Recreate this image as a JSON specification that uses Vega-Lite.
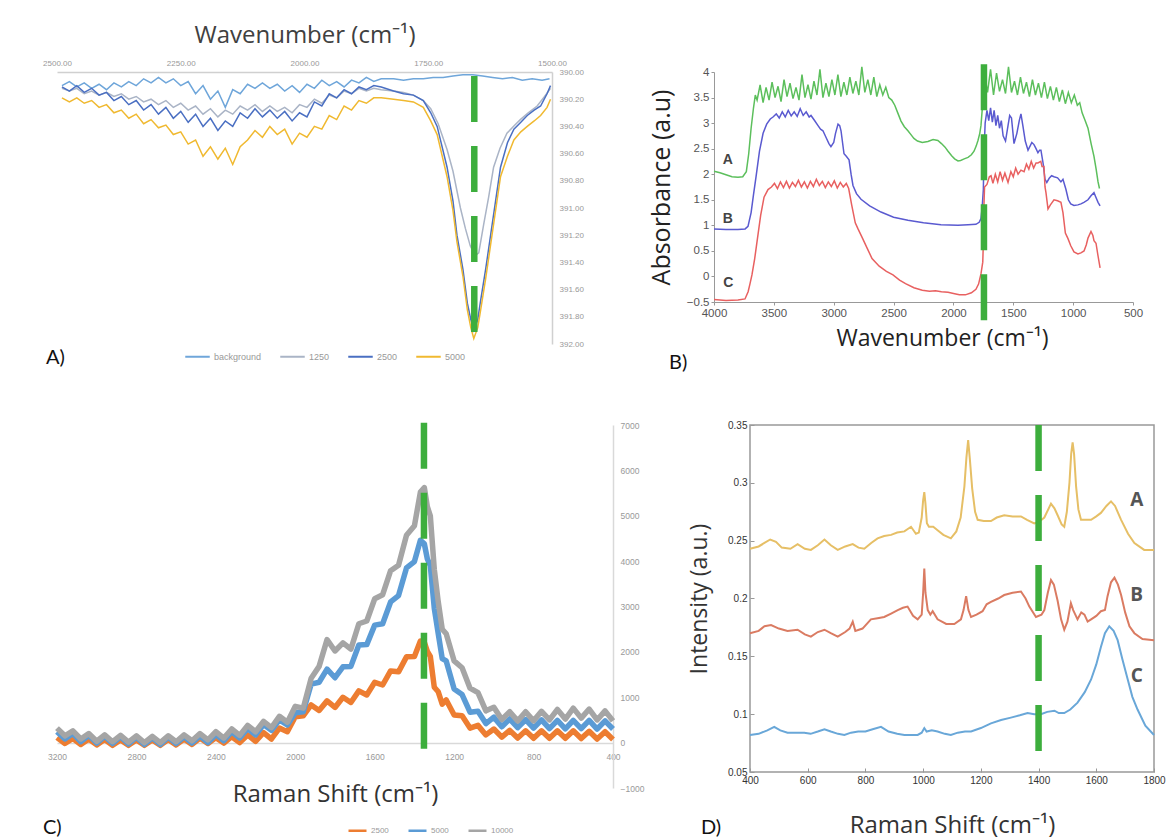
{
"$schema": "https://vega.github.io/schema/vega-lite/v6.json",
"background": "white",
"padding": {"left": 42, "top": 23, "right": 10, "bottom": 5},
"config": {
  "view": {"stroke": null},
  "axis": {"grid": false, "labelFlush": false, "labelOverlap": false, "titleFontWeight": "normal", "labelFont": "Liberation Sans", "titleFont": "Open Sans"},
  "legend": {"labelFont": "Liberation Sans"},
  "title": {"fontWeight": "normal", "font": "Lato", "fontSize": 20, "color": "#111", "anchor": "start", "orient": "bottom", "frame": "group"}
},
"resolve": {"scale": {"color": "independent"}, "legend": {"color": "independent"}},
"datasets": {
"A": [
{"s":"background","x":2490,"y":390.10},{"s":"background","x":2475,"y":390.07},{"s":"background","x":2460,"y":390.11},{"s":"background","x":2445,"y":390.08},{"s":"background","x":2430,"y":390.12},{"s":"background","x":2415,"y":390.09},{"s":"background","x":2400,"y":390.13},{"s":"background","x":2385,"y":390.08},{"s":"background","x":2370,"y":390.11},{"s":"background","x":2355,"y":390.07},{"s":"background","x":2340,"y":390.10},{"s":"background","x":2325,"y":390.05},{"s":"background","x":2310,"y":390.08},{"s":"background","x":2295,"y":390.04},{"s":"background","x":2280,"y":390.08},{"s":"background","x":2265,"y":390.05},{"s":"background","x":2250,"y":390.10},{"s":"background","x":2235,"y":390.07},{"s":"background","x":2220,"y":390.16},{"s":"background","x":2205,"y":390.10},{"s":"background","x":2190,"y":390.20},{"s":"background","x":2175,"y":390.14},{"s":"background","x":2160,"y":390.26},{"s":"background","x":2145,"y":390.13},{"s":"background","x":2130,"y":390.16},{"s":"background","x":2115,"y":390.09},{"s":"background","x":2100,"y":390.12},{"s":"background","x":2085,"y":390.08},{"s":"background","x":2070,"y":390.12},{"s":"background","x":2055,"y":390.09},{"s":"background","x":2040,"y":390.14},{"s":"background","x":2025,"y":390.10},{"s":"background","x":2010,"y":390.15},{"s":"background","x":1995,"y":390.09},{"s":"background","x":1980,"y":390.12},{"s":"background","x":1965,"y":390.06},{"s":"background","x":1950,"y":390.10},{"s":"background","x":1935,"y":390.07},{"s":"background","x":1920,"y":390.11},{"s":"background","x":1905,"y":390.06},{"s":"background","x":1890,"y":390.08},{"s":"background","x":1875,"y":390.04},{"s":"background","x":1860,"y":390.07},{"s":"background","x":1845,"y":390.05},{"s":"background","x":1820,"y":390.05},{"s":"background","x":1800,"y":390.06},{"s":"background","x":1780,"y":390.05},{"s":"background","x":1760,"y":390.05},{"s":"background","x":1740,"y":390.04},{"s":"background","x":1720,"y":390.04},{"s":"background","x":1700,"y":390.03},{"s":"background","x":1680,"y":390.02},{"s":"background","x":1660,"y":390.02},{"s":"background","x":1640,"y":390.03},{"s":"background","x":1620,"y":390.04},{"s":"background","x":1600,"y":390.05},{"s":"background","x":1580,"y":390.04},{"s":"background","x":1560,"y":390.06},{"s":"background","x":1540,"y":390.05},{"s":"background","x":1520,"y":390.06},{"s":"background","x":1505,"y":390.05},
{"s":"1250","x":2490,"y":390.12},{"s":"1250","x":2475,"y":390.14},{"s":"1250","x":2460,"y":390.12},{"s":"1250","x":2445,"y":390.16},{"s":"1250","x":2430,"y":390.14},{"s":"1250","x":2415,"y":390.17},{"s":"1250","x":2400,"y":390.15},{"s":"1250","x":2385,"y":390.18},{"s":"1250","x":2370,"y":390.16},{"s":"1250","x":2355,"y":390.20},{"s":"1250","x":2340,"y":390.18},{"s":"1250","x":2325,"y":390.22},{"s":"1250","x":2310,"y":390.20},{"s":"1250","x":2295,"y":390.24},{"s":"1250","x":2280,"y":390.21},{"s":"1250","x":2265,"y":390.26},{"s":"1250","x":2250,"y":390.23},{"s":"1250","x":2235,"y":390.28},{"s":"1250","x":2220,"y":390.25},{"s":"1250","x":2205,"y":390.31},{"s":"1250","x":2190,"y":390.27},{"s":"1250","x":2175,"y":390.33},{"s":"1250","x":2160,"y":390.28},{"s":"1250","x":2145,"y":390.31},{"s":"1250","x":2130,"y":390.25},{"s":"1250","x":2115,"y":390.28},{"s":"1250","x":2100,"y":390.24},{"s":"1250","x":2085,"y":390.29},{"s":"1250","x":2070,"y":390.25},{"s":"1250","x":2055,"y":390.29},{"s":"1250","x":2040,"y":390.26},{"s":"1250","x":2025,"y":390.30},{"s":"1250","x":2010,"y":390.24},{"s":"1250","x":1995,"y":390.26},{"s":"1250","x":1980,"y":390.20},{"s":"1250","x":1965,"y":390.23},{"s":"1250","x":1950,"y":390.17},{"s":"1250","x":1935,"y":390.19},{"s":"1250","x":1920,"y":390.14},{"s":"1250","x":1905,"y":390.16},{"s":"1250","x":1890,"y":390.12},{"s":"1250","x":1875,"y":390.14},{"s":"1250","x":1860,"y":390.12},{"s":"1250","x":1845,"y":390.13},{"s":"1250","x":1820,"y":390.14},{"s":"1250","x":1800,"y":390.15},{"s":"1250","x":1780,"y":390.17},{"s":"1250","x":1760,"y":390.21},{"s":"1250","x":1745,"y":390.27},{"s":"1250","x":1730,"y":390.38},{"s":"1250","x":1712,"y":390.57},{"s":"1250","x":1700,"y":390.73},{"s":"1250","x":1685,"y":391.00},{"s":"1250","x":1675,"y":391.15},{"s":"1250","x":1665,"y":391.28},{"s":"1250","x":1655,"y":391.35},{"s":"1250","x":1648,"y":391.33},{"s":"1250","x":1638,"y":391.12},{"s":"1250","x":1628,"y":390.92},{"s":"1250","x":1618,"y":390.70},{"s":"1250","x":1605,"y":390.56},{"s":"1250","x":1591,"y":390.45},{"s":"1250","x":1575,"y":390.39},{"s":"1250","x":1564,"y":390.35},{"s":"1250","x":1548,"y":390.30},{"s":"1250","x":1530,"y":390.25},{"s":"1250","x":1515,"y":390.18},{"s":"1250","x":1503,"y":390.12},
{"s":"2500","x":2490,"y":390.11},{"s":"2500","x":2475,"y":390.14},{"s":"2500","x":2460,"y":390.10},{"s":"2500","x":2445,"y":390.15},{"s":"2500","x":2430,"y":390.12},{"s":"2500","x":2415,"y":390.17},{"s":"2500","x":2400,"y":390.15},{"s":"2500","x":2385,"y":390.21},{"s":"2500","x":2370,"y":390.18},{"s":"2500","x":2355,"y":390.24},{"s":"2500","x":2340,"y":390.21},{"s":"2500","x":2325,"y":390.28},{"s":"2500","x":2310,"y":390.24},{"s":"2500","x":2295,"y":390.31},{"s":"2500","x":2280,"y":390.26},{"s":"2500","x":2265,"y":390.34},{"s":"2500","x":2250,"y":390.29},{"s":"2500","x":2235,"y":390.37},{"s":"2500","x":2220,"y":390.31},{"s":"2500","x":2205,"y":390.40},{"s":"2500","x":2190,"y":390.34},{"s":"2500","x":2175,"y":390.43},{"s":"2500","x":2160,"y":390.36},{"s":"2500","x":2145,"y":390.40},{"s":"2500","x":2130,"y":390.30},{"s":"2500","x":2115,"y":390.34},{"s":"2500","x":2100,"y":390.27},{"s":"2500","x":2085,"y":390.33},{"s":"2500","x":2070,"y":390.28},{"s":"2500","x":2055,"y":390.34},{"s":"2500","x":2040,"y":390.29},{"s":"2500","x":2025,"y":390.36},{"s":"2500","x":2010,"y":390.30},{"s":"2500","x":1995,"y":390.33},{"s":"2500","x":1980,"y":390.22},{"s":"2500","x":1965,"y":390.25},{"s":"2500","x":1950,"y":390.16},{"s":"2500","x":1935,"y":390.19},{"s":"2500","x":1920,"y":390.13},{"s":"2500","x":1905,"y":390.16},{"s":"2500","x":1890,"y":390.11},{"s":"2500","x":1875,"y":390.13},{"s":"2500","x":1860,"y":390.10},{"s":"2500","x":1845,"y":390.11},{"s":"2500","x":1820,"y":390.14},{"s":"2500","x":1800,"y":390.16},{"s":"2500","x":1780,"y":390.17},{"s":"2500","x":1760,"y":390.21},{"s":"2500","x":1745,"y":390.30},{"s":"2500","x":1732,"y":390.40},{"s":"2500","x":1712,"y":390.70},{"s":"2500","x":1700,"y":390.95},{"s":"2500","x":1692,"y":391.20},{"s":"2500","x":1680,"y":391.45},{"s":"2500","x":1671,"y":391.70},{"s":"2500","x":1664,"y":391.82},{"s":"2500","x":1658,"y":391.90},{"s":"2500","x":1650,"y":391.82},{"s":"2500","x":1645,"y":391.70},{"s":"2500","x":1634,"y":391.45},{"s":"2500","x":1624,"y":391.20},{"s":"2500","x":1614,"y":390.95},{"s":"2500","x":1604,"y":390.70},{"s":"2500","x":1590,"y":390.52},{"s":"2500","x":1577,"y":390.42},{"s":"2500","x":1563,"y":390.37},{"s":"2500","x":1550,"y":390.32},{"s":"2500","x":1536,"y":390.28},{"s":"2500","x":1523,"y":390.25},{"s":"2500","x":1510,"y":390.16},{"s":"2500","x":1503,"y":390.10},
{"s":"5000","x":2490,"y":390.19},{"s":"5000","x":2475,"y":390.22},{"s":"5000","x":2460,"y":390.19},{"s":"5000","x":2445,"y":390.23},{"s":"5000","x":2430,"y":390.21},{"s":"5000","x":2415,"y":390.26},{"s":"5000","x":2400,"y":390.24},{"s":"5000","x":2385,"y":390.30},{"s":"5000","x":2370,"y":390.28},{"s":"5000","x":2355,"y":390.34},{"s":"5000","x":2340,"y":390.31},{"s":"5000","x":2325,"y":390.38},{"s":"5000","x":2310,"y":390.35},{"s":"5000","x":2295,"y":390.41},{"s":"5000","x":2280,"y":390.39},{"s":"5000","x":2265,"y":390.46},{"s":"5000","x":2250,"y":390.44},{"s":"5000","x":2235,"y":390.53},{"s":"5000","x":2220,"y":390.50},{"s":"5000","x":2205,"y":390.62},{"s":"5000","x":2190,"y":390.55},{"s":"5000","x":2175,"y":390.64},{"s":"5000","x":2160,"y":390.56},{"s":"5000","x":2145,"y":390.68},{"s":"5000","x":2130,"y":390.55},{"s":"5000","x":2115,"y":390.50},{"s":"5000","x":2100,"y":390.43},{"s":"5000","x":2085,"y":390.48},{"s":"5000","x":2070,"y":390.40},{"s":"5000","x":2055,"y":390.46},{"s":"5000","x":2040,"y":390.42},{"s":"5000","x":2025,"y":390.53},{"s":"5000","x":2010,"y":390.45},{"s":"5000","x":1995,"y":390.48},{"s":"5000","x":1980,"y":390.40},{"s":"5000","x":1965,"y":390.42},{"s":"5000","x":1950,"y":390.32},{"s":"5000","x":1935,"y":390.35},{"s":"5000","x":1920,"y":390.25},{"s":"5000","x":1905,"y":390.28},{"s":"5000","x":1890,"y":390.21},{"s":"5000","x":1875,"y":390.23},{"s":"5000","x":1860,"y":390.19},{"s":"5000","x":1845,"y":390.19},{"s":"5000","x":1820,"y":390.20},{"s":"5000","x":1800,"y":390.21},{"s":"5000","x":1780,"y":390.22},{"s":"5000","x":1760,"y":390.26},{"s":"5000","x":1745,"y":390.36},{"s":"5000","x":1732,"y":390.46},{"s":"5000","x":1712,"y":390.77},{"s":"5000","x":1700,"y":391.02},{"s":"5000","x":1692,"y":391.25},{"s":"5000","x":1680,"y":391.50},{"s":"5000","x":1671,"y":391.75},{"s":"5000","x":1664,"y":391.88},{"s":"5000","x":1658,"y":391.96},{"s":"5000","x":1650,"y":391.88},{"s":"5000","x":1645,"y":391.77},{"s":"5000","x":1634,"y":391.52},{"s":"5000","x":1624,"y":391.27},{"s":"5000","x":1614,"y":391.02},{"s":"5000","x":1604,"y":390.77},{"s":"5000","x":1590,"y":390.62},{"s":"5000","x":1577,"y":390.50},{"s":"5000","x":1563,"y":390.44},{"s":"5000","x":1550,"y":390.40},{"s":"5000","x":1536,"y":390.36},{"s":"5000","x":1523,"y":390.32},{"s":"5000","x":1510,"y":390.26},{"s":"5000","x":1503,"y":390.20}
],
"B": [
{"s":"A","x":4000,"y":2.06},{"s":"A","x":3950,"y":2.03},{"s":"A","x":3900,"y":1.99},{"s":"A","x":3850,"y":1.95},{"s":"A","x":3800,"y":1.94},{"s":"A","x":3760,"y":1.95},{"s":"A","x":3730,"y":2.05},{"s":"A","x":3710,"y":2.4},{"s":"A","x":3690,"y":2.9},{"s":"A","x":3670,"y":3.3},{"s":"A","x":3655,"y":3.55},{"s":"A","x":3640,"y":3.45},{"s":"A","x":3615,"y":3.75},{"s":"A","x":3590,"y":3.40},{"s":"A","x":3565,"y":3.70},{"s":"A","x":3540,"y":3.45},{"s":"A","x":3515,"y":3.80},{"s":"A","x":3490,"y":3.50},{"s":"A","x":3465,"y":3.72},{"s":"A","x":3440,"y":3.42},{"s":"A","x":3415,"y":3.85},{"s":"A","x":3390,"y":3.52},{"s":"A","x":3365,"y":3.78},{"s":"A","x":3340,"y":3.48},{"s":"A","x":3315,"y":3.70},{"s":"A","x":3290,"y":3.45},{"s":"A","x":3265,"y":3.95},{"s":"A","x":3240,"y":3.50},{"s":"A","x":3215,"y":3.75},{"s":"A","x":3190,"y":3.47},{"s":"A","x":3165,"y":3.82},{"s":"A","x":3140,"y":3.55},{"s":"A","x":3115,"y":4.05},{"s":"A","x":3090,"y":3.50},{"s":"A","x":3065,"y":3.78},{"s":"A","x":3040,"y":3.52},{"s":"A","x":3015,"y":3.85},{"s":"A","x":2990,"y":3.55},{"s":"A","x":2965,"y":3.95},{"s":"A","x":2940,"y":3.52},{"s":"A","x":2915,"y":3.80},{"s":"A","x":2890,"y":3.55},{"s":"A","x":2865,"y":3.90},{"s":"A","x":2840,"y":3.58},{"s":"A","x":2815,"y":3.82},{"s":"A","x":2790,"y":3.55},{"s":"A","x":2765,"y":4.1},{"s":"A","x":2740,"y":3.60},{"s":"A","x":2715,"y":3.85},{"s":"A","x":2690,"y":3.55},{"s":"A","x":2665,"y":3.90},{"s":"A","x":2640,"y":3.52},{"s":"A","x":2615,"y":3.75},{"s":"A","x":2590,"y":3.55},{"s":"A","x":2565,"y":3.70},{"s":"A","x":2540,"y":3.50},{"s":"A","x":2515,"y":3.45},{"s":"A","x":2490,"y":3.35},{"s":"A","x":2465,"y":3.20},{"s":"A","x":2438,"y":3.04},{"s":"A","x":2410,"y":2.93},{"s":"A","x":2380,"y":2.85},{"s":"A","x":2350,"y":2.76},{"s":"A","x":2330,"y":2.70},{"s":"A","x":2300,"y":2.65},{"s":"A","x":2260,"y":2.62},{"s":"A","x":2213,"y":2.64},{"s":"A","x":2170,"y":2.68},{"s":"A","x":2130,"y":2.66},{"s":"A","x":2100,"y":2.60},{"s":"A","x":2070,"y":2.53},{"s":"A","x":2045,"y":2.45},{"s":"A","x":2015,"y":2.36},{"s":"A","x":1990,"y":2.30},{"s":"A","x":1962,"y":2.26},{"s":"A","x":1940,"y":2.27},{"s":"A","x":1910,"y":2.30},{"s":"A","x":1878,"y":2.33},{"s":"A","x":1850,"y":2.38},{"s":"A","x":1828,"y":2.45},{"s":"A","x":1810,"y":2.55},{"s":"A","x":1795,"y":2.66},{"s":"A","x":1780,"y":2.80},{"s":"A","x":1770,"y":2.95},{"s":"A","x":1760,"y":3.25},{"s":"A","x":1752,"y":3.6},{"s":"A","x":1740,"y":3.95},{"s":"A","x":1715,"y":3.60},{"s":"A","x":1690,"y":4.05},{"s":"A","x":1665,"y":3.55},{"s":"A","x":1640,"y":3.98},{"s":"A","x":1615,"y":3.62},{"s":"A","x":1590,"y":3.85},{"s":"A","x":1565,"y":3.58},{"s":"A","x":1540,"y":4.1},{"s":"A","x":1515,"y":3.60},{"s":"A","x":1490,"y":3.82},{"s":"A","x":1465,"y":3.55},{"s":"A","x":1440,"y":3.90},{"s":"A","x":1415,"y":3.58},{"s":"A","x":1390,"y":3.80},{"s":"A","x":1365,"y":3.52},{"s":"A","x":1340,"y":3.85},{"s":"A","x":1315,"y":3.55},{"s":"A","x":1290,"y":3.78},{"s":"A","x":1265,"y":3.50},{"s":"A","x":1240,"y":3.80},{"s":"A","x":1215,"y":3.48},{"s":"A","x":1190,"y":3.72},{"s":"A","x":1165,"y":3.45},{"s":"A","x":1140,"y":3.70},{"s":"A","x":1115,"y":3.42},{"s":"A","x":1090,"y":3.65},{"s":"A","x":1065,"y":3.38},{"s":"A","x":1040,"y":3.60},{"s":"A","x":1015,"y":3.40},{"s":"A","x":990,"y":3.55},{"s":"A","x":965,"y":3.35},{"s":"A","x":945,"y":3.40},{"s":"A","x":925,"y":3.20},{"s":"A","x":900,"y":3.05},{"s":"A","x":876,"y":2.90},{"s":"A","x":850,"y":2.60},{"s":"A","x":826,"y":2.35},{"s":"A","x":808,"y":2.10},{"s":"A","x":792,"y":1.85},{"s":"A","x":780,"y":1.72},
{"s":"B","x":4000,"y":0.93},{"s":"B","x":3900,"y":0.92},{"s":"B","x":3800,"y":0.92},{"s":"B","x":3740,"y":0.93},{"s":"B","x":3716,"y":0.98},{"s":"B","x":3690,"y":1.25},{"s":"B","x":3670,"y":1.60},{"s":"B","x":3649,"y":1.95},{"s":"B","x":3620,"y":2.45},{"s":"B","x":3590,"y":2.80},{"s":"B","x":3560,"y":2.98},{"s":"B","x":3530,"y":3.08},{"s":"B","x":3507,"y":3.12},{"s":"B","x":3480,"y":3.18},{"s":"B","x":3455,"y":3.10},{"s":"B","x":3430,"y":3.22},{"s":"B","x":3405,"y":3.12},{"s":"B","x":3380,"y":3.25},{"s":"B","x":3355,"y":3.14},{"s":"B","x":3330,"y":3.22},{"s":"B","x":3305,"y":3.13},{"s":"B","x":3280,"y":3.28},{"s":"B","x":3255,"y":3.15},{"s":"B","x":3230,"y":3.22},{"s":"B","x":3205,"y":3.12},{"s":"B","x":3190,"y":3.15},{"s":"B","x":3160,"y":3.05},{"s":"B","x":3131,"y":2.95},{"s":"B","x":3110,"y":2.88},{"s":"B","x":3090,"y":2.85},{"s":"B","x":3060,"y":2.70},{"s":"B","x":3040,"y":2.60},{"s":"B","x":3023,"y":2.54},{"s":"B","x":3000,"y":2.62},{"s":"B","x":2985,"y":2.80},{"s":"B","x":2964,"y":2.98},{"s":"B","x":2950,"y":2.95},{"s":"B","x":2939,"y":2.85},{"s":"B","x":2914,"y":2.40},{"s":"B","x":2895,"y":2.35},{"s":"B","x":2872,"y":2.28},{"s":"B","x":2855,"y":2.00},{"s":"B","x":2839,"y":1.78},{"s":"B","x":2810,"y":1.62},{"s":"B","x":2772,"y":1.51},{"s":"B","x":2700,"y":1.38},{"s":"B","x":2605,"y":1.26},{"s":"B","x":2500,"y":1.16},{"s":"B","x":2380,"y":1.10},{"s":"B","x":2250,"y":1.05},{"s":"B","x":2104,"y":1.01},{"s":"B","x":1962,"y":1.00},{"s":"B","x":1878,"y":1.01},{"s":"B","x":1812,"y":1.02},{"s":"B","x":1785,"y":1.06},{"s":"B","x":1770,"y":1.13},{"s":"B","x":1760,"y":1.35},{"s":"B","x":1750,"y":1.70},{"s":"B","x":1745,"y":2.40},{"s":"B","x":1735,"y":3.00},{"s":"B","x":1720,"y":3.25},{"s":"B","x":1705,"y":3.05},{"s":"B","x":1690,"y":3.30},{"s":"B","x":1675,"y":3.02},{"s":"B","x":1660,"y":3.25},{"s":"B","x":1645,"y":2.95},{"s":"B","x":1630,"y":3.15},{"s":"B","x":1615,"y":2.90},{"s":"B","x":1600,"y":3.05},{"s":"B","x":1585,"y":2.75},{"s":"B","x":1565,"y":2.65},{"s":"B","x":1544,"y":2.95},{"s":"B","x":1530,"y":3.15},{"s":"B","x":1515,"y":3.10},{"s":"B","x":1494,"y":2.60},{"s":"B","x":1470,"y":2.80},{"s":"B","x":1450,"y":3.05},{"s":"B","x":1436,"y":3.18},{"s":"B","x":1420,"y":2.95},{"s":"B","x":1400,"y":2.65},{"s":"B","x":1377,"y":2.47},{"s":"B","x":1360,"y":2.55},{"s":"B","x":1345,"y":2.62},{"s":"B","x":1327,"y":2.58},{"s":"B","x":1310,"y":2.50},{"s":"B","x":1294,"y":2.42},{"s":"B","x":1280,"y":2.47},{"s":"B","x":1269,"y":2.47},{"s":"B","x":1250,"y":2.20},{"s":"B","x":1235,"y":1.90},{"s":"B","x":1220,"y":1.84},{"s":"B","x":1200,"y":1.92},{"s":"B","x":1180,"y":1.97},{"s":"B","x":1160,"y":1.95},{"s":"B","x":1130,"y":1.93},{"s":"B","x":1102,"y":1.85},{"s":"B","x":1085,"y":1.90},{"s":"B","x":1060,"y":1.70},{"s":"B","x":1040,"y":1.50},{"s":"B","x":1020,"y":1.42},{"s":"B","x":993,"y":1.39},{"s":"B","x":960,"y":1.40},{"s":"B","x":935,"y":1.42},{"s":"B","x":910,"y":1.45},{"s":"B","x":876,"y":1.50},{"s":"B","x":851,"y":1.58},{"s":"B","x":826,"y":1.64},{"s":"B","x":810,"y":1.55},{"s":"B","x":792,"y":1.45},{"s":"B","x":775,"y":1.38},
{"s":"C","x":4000,"y":-0.45},{"s":"C","x":3900,"y":-0.47},{"s":"C","x":3800,"y":-0.46},{"s":"C","x":3741,"y":-0.44},{"s":"C","x":3715,"y":-0.30},{"s":"C","x":3700,"y":-0.15},{"s":"C","x":3683,"y":0.03},{"s":"C","x":3660,"y":0.35},{"s":"C","x":3640,"y":0.69},{"s":"C","x":3610,"y":1.20},{"s":"C","x":3582,"y":1.55},{"s":"C","x":3549,"y":1.70},{"s":"C","x":3520,"y":1.75},{"s":"C","x":3495,"y":1.82},{"s":"C","x":3470,"y":1.72},{"s":"C","x":3445,"y":1.85},{"s":"C","x":3420,"y":1.74},{"s":"C","x":3395,"y":1.86},{"s":"C","x":3370,"y":1.73},{"s":"C","x":3345,"y":1.84},{"s":"C","x":3320,"y":1.76},{"s":"C","x":3295,"y":1.88},{"s":"C","x":3270,"y":1.75},{"s":"C","x":3245,"y":1.85},{"s":"C","x":3220,"y":1.73},{"s":"C","x":3195,"y":1.86},{"s":"C","x":3170,"y":1.76},{"s":"C","x":3145,"y":1.90},{"s":"C","x":3120,"y":1.78},{"s":"C","x":3095,"y":1.86},{"s":"C","x":3070,"y":1.74},{"s":"C","x":3045,"y":1.85},{"s":"C","x":3020,"y":1.76},{"s":"C","x":2995,"y":1.87},{"s":"C","x":2970,"y":1.73},{"s":"C","x":2945,"y":1.84},{"s":"C","x":2920,"y":1.75},{"s":"C","x":2895,"y":1.82},{"s":"C","x":2875,"y":1.72},{"s":"C","x":2850,"y":1.40},{"s":"C","x":2820,"y":1.05},{"s":"C","x":2797,"y":0.93},{"s":"C","x":2760,"y":0.75},{"s":"C","x":2720,"y":0.55},{"s":"C","x":2680,"y":0.35},{"s":"C","x":2620,"y":0.20},{"s":"C","x":2560,"y":0.10},{"s":"C","x":2505,"y":0.03},{"s":"C","x":2450,"y":-0.07},{"s":"C","x":2400,"y":-0.14},{"s":"C","x":2330,"y":-0.22},{"s":"C","x":2260,"y":-0.27},{"s":"C","x":2200,"y":-0.29},{"s":"C","x":2150,"y":-0.28},{"s":"C","x":2100,"y":-0.30},{"s":"C","x":2045,"y":-0.31},{"s":"C","x":1990,"y":-0.34},{"s":"C","x":1950,"y":-0.36},{"s":"C","x":1900,"y":-0.36},{"s":"C","x":1850,"y":-0.32},{"s":"C","x":1812,"y":-0.25},{"s":"C","x":1790,"y":-0.15},{"s":"C","x":1770,"y":0.05},{"s":"C","x":1755,"y":0.28},{"s":"C","x":1748,"y":0.8},{"s":"C","x":1745,"y":1.4},{"s":"C","x":1740,"y":1.75},{"s":"C","x":1720,"y":1.80},{"s":"C","x":1700,"y":1.95},{"s":"C","x":1686,"y":1.97},{"s":"C","x":1670,"y":1.82},{"s":"C","x":1650,"y":2.0},{"s":"C","x":1630,"y":1.85},{"s":"C","x":1610,"y":2.05},{"s":"C","x":1590,"y":1.88},{"s":"C","x":1570,"y":2.02},{"s":"C","x":1544,"y":1.84},{"s":"C","x":1520,"y":2.05},{"s":"C","x":1500,"y":1.95},{"s":"C","x":1480,"y":2.12},{"s":"C","x":1460,"y":2.0},{"s":"C","x":1436,"y":2.08},{"s":"C","x":1410,"y":2.05},{"s":"C","x":1390,"y":2.20},{"s":"C","x":1370,"y":2.10},{"s":"C","x":1350,"y":2.25},{"s":"C","x":1330,"y":2.12},{"s":"C","x":1310,"y":2.22},{"s":"C","x":1294,"y":2.22},{"s":"C","x":1270,"y":2.25},{"s":"C","x":1260,"y":2.15},{"s":"C","x":1244,"y":2.15},{"s":"C","x":1235,"y":1.75},{"s":"C","x":1227,"y":1.64},{"s":"C","x":1210,"y":1.32},{"s":"C","x":1190,"y":1.40},{"s":"C","x":1160,"y":1.50},{"s":"C","x":1130,"y":1.48},{"s":"C","x":1102,"y":1.45},{"s":"C","x":1085,"y":1.25},{"s":"C","x":1065,"y":0.85},{"s":"C","x":1043,"y":0.74},{"s":"C","x":1020,"y":0.60},{"s":"C","x":993,"y":0.48},{"s":"C","x":960,"y":0.44},{"s":"C","x":935,"y":0.46},{"s":"C","x":909,"y":0.50},{"s":"C","x":890,"y":0.62},{"s":"C","x":876,"y":0.75},{"s":"C","x":851,"y":0.88},{"s":"C","x":835,"y":0.80},{"s":"C","x":826,"y":0.70},{"s":"C","x":809,"y":0.65},{"s":"C","x":792,"y":0.40},{"s":"C","x":775,"y":0.17}
],
"Blab": [{"t":"A","x":3885,"y":2.27},{"t":"B","x":3885,"y":1.12},{"t":"C","x":3880,"y":-0.13}],
"C": [
{"s":"2500","x":3200,"y":110},{"s":"2500","x":3160,"y":-20},{"s":"2500","x":3120,"y":90},{"s":"2500","x":3080,"y":-40},{"s":"2500","x":3040,"y":80},{"s":"2500","x":3000,"y":-50},{"s":"2500","x":2960,"y":70},{"s":"2500","x":2920,"y":-60},{"s":"2500","x":2880,"y":60},{"s":"2500","x":2840,"y":-60},{"s":"2500","x":2800,"y":60},{"s":"2500","x":2760,"y":-60},{"s":"2500","x":2720,"y":60},{"s":"2500","x":2680,"y":-60},{"s":"2500","x":2640,"y":70},{"s":"2500","x":2600,"y":-50},{"s":"2500","x":2560,"y":80},{"s":"2500","x":2520,"y":-40},{"s":"2500","x":2480,"y":100},{"s":"2500","x":2440,"y":-20},{"s":"2500","x":2400,"y":110},{"s":"2500","x":2360,"y":-10},{"s":"2500","x":2320,"y":130},{"s":"2500","x":2280,"y":0},{"s":"2500","x":2240,"y":170},{"s":"2500","x":2200,"y":30},{"s":"2500","x":2160,"y":220},{"s":"2500","x":2120,"y":80},{"s":"2500","x":2080,"y":320},{"s":"2500","x":2040,"y":240},{"s":"2500","x":2000,"y":570},{"s":"2500","x":1960,"y":590},{"s":"2500","x":1920,"y":830},{"s":"2500","x":1880,"y":710},{"s":"2500","x":1840,"y":920},{"s":"2500","x":1800,"y":775},{"s":"2500","x":1760,"y":1000},{"s":"2500","x":1720,"y":885},{"s":"2500","x":1680,"y":1140},{"s":"2500","x":1640,"y":1050},{"s":"2500","x":1600,"y":1330},{"s":"2500","x":1560,"y":1270},{"s":"2500","x":1520,"y":1580},{"s":"2500","x":1480,"y":1560},{"s":"2500","x":1440,"y":1890},{"s":"2500","x":1400,"y":1900},{"s":"2500","x":1370,"y":2240},{"s":"2500","x":1350,"y":2210},{"s":"2500","x":1335,"y":2010},{"s":"2500","x":1320,"y":1900},{"s":"2500","x":1300,"y":1220},{"s":"2500","x":1280,"y":1120},{"s":"2500","x":1260,"y":850},{"s":"2500","x":1240,"y":940},{"s":"2500","x":1200,"y":610},{"s":"2500","x":1160,"y":590},{"s":"2500","x":1120,"y":320},{"s":"2500","x":1080,"y":380},{"s":"2500","x":1040,"y":170},{"s":"2500","x":1000,"y":300},{"s":"2500","x":960,"y":120},{"s":"2500","x":920,"y":270},{"s":"2500","x":880,"y":100},{"s":"2500","x":840,"y":260},{"s":"2500","x":800,"y":95},{"s":"2500","x":760,"y":260},{"s":"2500","x":720,"y":95},{"s":"2500","x":680,"y":260},{"s":"2500","x":640,"y":95},{"s":"2500","x":600,"y":260},{"s":"2500","x":560,"y":90},{"s":"2500","x":520,"y":250},{"s":"2500","x":480,"y":80},{"s":"2500","x":440,"y":240},{"s":"2500","x":400,"y":70},
{"s":"5000","x":3200,"y":240},{"s":"5000","x":3160,"y":80},{"s":"5000","x":3120,"y":200},{"s":"5000","x":3080,"y":20},{"s":"5000","x":3040,"y":160},{"s":"5000","x":3000,"y":-10},{"s":"5000","x":2960,"y":140},{"s":"5000","x":2920,"y":-20},{"s":"5000","x":2880,"y":130},{"s":"5000","x":2840,"y":-30},{"s":"5000","x":2800,"y":120},{"s":"5000","x":2760,"y":-40},{"s":"5000","x":2720,"y":110},{"s":"5000","x":2680,"y":-40},{"s":"5000","x":2640,"y":120},{"s":"5000","x":2600,"y":-20},{"s":"5000","x":2560,"y":130},{"s":"5000","x":2520,"y":-10},{"s":"5000","x":2480,"y":150},{"s":"5000","x":2440,"y":0},{"s":"5000","x":2400,"y":180},{"s":"5000","x":2360,"y":40},{"s":"5000","x":2320,"y":240},{"s":"5000","x":2280,"y":100},{"s":"5000","x":2240,"y":310},{"s":"5000","x":2200,"y":170},{"s":"5000","x":2160,"y":400},{"s":"5000","x":2120,"y":270},{"s":"5000","x":2080,"y":500},{"s":"5000","x":2040,"y":390},{"s":"5000","x":2000,"y":660},{"s":"5000","x":1960,"y":680},{"s":"5000","x":1920,"y":1290},{"s":"5000","x":1880,"y":1330},{"s":"5000","x":1840,"y":1620},{"s":"5000","x":1800,"y":1430},{"s":"5000","x":1760,"y":1670},{"s":"5000","x":1720,"y":1680},{"s":"5000","x":1680,"y":2150},{"s":"5000","x":1640,"y":2160},{"s":"5000","x":1600,"y":2590},{"s":"5000","x":1560,"y":2620},{"s":"5000","x":1520,"y":3100},{"s":"5000","x":1480,"y":3240},{"s":"5000","x":1440,"y":3850},{"s":"5000","x":1400,"y":3990},{"s":"5000","x":1370,"y":4460},{"s":"5000","x":1350,"y":4380},{"s":"5000","x":1335,"y":4050},{"s":"5000","x":1320,"y":3900},{"s":"5000","x":1300,"y":2960},{"s":"5000","x":1280,"y":2400},{"s":"5000","x":1260,"y":1850},{"s":"5000","x":1240,"y":1800},{"s":"5000","x":1200,"y":1180},{"s":"5000","x":1160,"y":1060},{"s":"5000","x":1120,"y":670},{"s":"5000","x":1080,"y":690},{"s":"5000","x":1040,"y":420},{"s":"5000","x":1000,"y":560},{"s":"5000","x":960,"y":350},{"s":"5000","x":920,"y":520},{"s":"5000","x":880,"y":330},{"s":"5000","x":840,"y":505},{"s":"5000","x":800,"y":320},{"s":"5000","x":760,"y":500},{"s":"5000","x":720,"y":310},{"s":"5000","x":680,"y":490},{"s":"5000","x":640,"y":305},{"s":"5000","x":600,"y":490},{"s":"5000","x":560,"y":310},{"s":"5000","x":520,"y":490},{"s":"5000","x":480,"y":300},{"s":"5000","x":440,"y":480},{"s":"5000","x":400,"y":300},
{"s":"10000","x":3200,"y":320},{"s":"10000","x":3160,"y":150},{"s":"10000","x":3120,"y":260},{"s":"10000","x":3080,"y":80},{"s":"10000","x":3040,"y":200},{"s":"10000","x":3000,"y":30},{"s":"10000","x":2960,"y":170},{"s":"10000","x":2920,"y":20},{"s":"10000","x":2880,"y":160},{"s":"10000","x":2840,"y":10},{"s":"10000","x":2800,"y":150},{"s":"10000","x":2760,"y":0},{"s":"10000","x":2720,"y":140},{"s":"10000","x":2680,"y":0},{"s":"10000","x":2640,"y":150},{"s":"10000","x":2600,"y":20},{"s":"10000","x":2560,"y":170},{"s":"10000","x":2520,"y":40},{"s":"10000","x":2480,"y":200},{"s":"10000","x":2440,"y":60},{"s":"10000","x":2400,"y":240},{"s":"10000","x":2360,"y":100},{"s":"10000","x":2320,"y":300},{"s":"10000","x":2280,"y":160},{"s":"10000","x":2240,"y":380},{"s":"10000","x":2200,"y":240},{"s":"10000","x":2160,"y":470},{"s":"10000","x":2120,"y":330},{"s":"10000","x":2080,"y":580},{"s":"10000","x":2040,"y":450},{"s":"10000","x":2000,"y":800},{"s":"10000","x":1960,"y":760},{"s":"10000","x":1920,"y":1420},{"s":"10000","x":1880,"y":1680},{"s":"10000","x":1840,"y":2270},{"s":"10000","x":1800,"y":2020},{"s":"10000","x":1760,"y":2200},{"s":"10000","x":1720,"y":2060},{"s":"10000","x":1680,"y":2620},{"s":"10000","x":1640,"y":2680},{"s":"10000","x":1600,"y":3170},{"s":"10000","x":1560,"y":3260},{"s":"10000","x":1520,"y":3790},{"s":"10000","x":1480,"y":3910},{"s":"10000","x":1440,"y":4570},{"s":"10000","x":1400,"y":4780},{"s":"10000","x":1370,"y":5520},{"s":"10000","x":1350,"y":5620},{"s":"10000","x":1335,"y":5200},{"s":"10000","x":1320,"y":5000},{"s":"10000","x":1300,"y":3820},{"s":"10000","x":1280,"y":3100},{"s":"10000","x":1260,"y":2500},{"s":"10000","x":1240,"y":2400},{"s":"10000","x":1200,"y":1800},{"s":"10000","x":1160,"y":1650},{"s":"10000","x":1120,"y":1200},{"s":"10000","x":1080,"y":1100},{"s":"10000","x":1040,"y":700},{"s":"10000","x":1000,"y":780},{"s":"10000","x":960,"y":510},{"s":"10000","x":920,"y":680},{"s":"10000","x":880,"y":480},{"s":"10000","x":840,"y":680},{"s":"10000","x":800,"y":480},{"s":"10000","x":760,"y":690},{"s":"10000","x":720,"y":500},{"s":"10000","x":680,"y":730},{"s":"10000","x":640,"y":520},{"s":"10000","x":600,"y":760},{"s":"10000","x":560,"y":540},{"s":"10000","x":520,"y":740},{"s":"10000","x":480,"y":500},{"s":"10000","x":440,"y":700},{"s":"10000","x":400,"y":480}
],
"D": [
{"s":"A","x":400,"y":0.243},{"s":"A","x":430,"y":0.245},{"s":"A","x":450,"y":0.248},{"s":"A","x":470,"y":0.251},{"s":"A","x":490,"y":0.249},{"s":"A","x":510,"y":0.244},{"s":"A","x":540,"y":0.243},{"s":"A","x":565,"y":0.247},{"s":"A","x":590,"y":0.243},{"s":"A","x":611,"y":0.242},{"s":"A","x":635,"y":0.246},{"s":"A","x":658,"y":0.251},{"s":"A","x":680,"y":0.246},{"s":"A","x":704,"y":0.242},{"s":"A","x":730,"y":0.245},{"s":"A","x":756,"y":0.247},{"s":"A","x":776,"y":0.244},{"s":"A","x":796,"y":0.243},{"s":"A","x":820,"y":0.248},{"s":"A","x":842,"y":0.252},{"s":"A","x":865,"y":0.254},{"s":"A","x":889,"y":0.255},{"s":"A","x":910,"y":0.257},{"s":"A","x":935,"y":0.258},{"s":"A","x":958,"y":0.262},{"s":"A","x":975,"y":0.256},{"s":"A","x":985,"y":0.257},{"s":"A","x":995,"y":0.270},{"s":"A","x":1000,"y":0.285},{"s":"A","x":1004,"y":0.292},{"s":"A","x":1008,"y":0.282},{"s":"A","x":1013,"y":0.265},{"s":"A","x":1020,"y":0.262},{"s":"A","x":1035,"y":0.262},{"s":"A","x":1050,"y":0.259},{"s":"A","x":1070,"y":0.255},{"s":"A","x":1096,"y":0.252},{"s":"A","x":1115,"y":0.258},{"s":"A","x":1130,"y":0.270},{"s":"A","x":1143,"y":0.297},{"s":"A","x":1150,"y":0.322},{"s":"A","x":1156,"y":0.337},{"s":"A","x":1162,"y":0.320},{"s":"A","x":1170,"y":0.295},{"s":"A","x":1180,"y":0.275},{"s":"A","x":1189,"y":0.268},{"s":"A","x":1210,"y":0.267},{"s":"A","x":1235,"y":0.267},{"s":"A","x":1255,"y":0.270},{"s":"A","x":1281,"y":0.272},{"s":"A","x":1310,"y":0.271},{"s":"A","x":1339,"y":0.271},{"s":"A","x":1360,"y":0.268},{"s":"A","x":1385,"y":0.265},{"s":"A","x":1400,"y":0.266},{"s":"A","x":1420,"y":0.270},{"s":"A","x":1443,"y":0.282},{"s":"A","x":1455,"y":0.278},{"s":"A","x":1466,"y":0.272},{"s":"A","x":1480,"y":0.264},{"s":"A","x":1489,"y":0.262},{"s":"A","x":1498,"y":0.275},{"s":"A","x":1507,"y":0.300},{"s":"A","x":1513,"y":0.325},{"s":"A","x":1518,"y":0.335},{"s":"A","x":1523,"y":0.325},{"s":"A","x":1530,"y":0.297},{"s":"A","x":1538,"y":0.277},{"s":"A","x":1547,"y":0.268},{"s":"A","x":1565,"y":0.268},{"s":"A","x":1582,"y":0.268},{"s":"A","x":1600,"y":0.271},{"s":"A","x":1616,"y":0.274},{"s":"A","x":1635,"y":0.280},{"s":"A","x":1651,"y":0.284},{"s":"A","x":1665,"y":0.280},{"s":"A","x":1686,"y":0.268},{"s":"A","x":1710,"y":0.256},{"s":"A","x":1732,"y":0.248},{"s":"A","x":1766,"y":0.242},{"s":"A","x":1800,"y":0.242},
{"s":"B","x":400,"y":0.170},{"s":"B","x":430,"y":0.172},{"s":"B","x":450,"y":0.176},{"s":"B","x":473,"y":0.177},{"s":"B","x":500,"y":0.174},{"s":"B","x":530,"y":0.172},{"s":"B","x":565,"y":0.173},{"s":"B","x":590,"y":0.169},{"s":"B","x":611,"y":0.167},{"s":"B","x":635,"y":0.171},{"s":"B","x":658,"y":0.173},{"s":"B","x":680,"y":0.170},{"s":"B","x":704,"y":0.167},{"s":"B","x":730,"y":0.171},{"s":"B","x":745,"y":0.174},{"s":"B","x":756,"y":0.180},{"s":"B","x":765,"y":0.172},{"s":"B","x":790,"y":0.174},{"s":"B","x":819,"y":0.182},{"s":"B","x":842,"y":0.183},{"s":"B","x":865,"y":0.184},{"s":"B","x":889,"y":0.187},{"s":"B","x":912,"y":0.190},{"s":"B","x":930,"y":0.192},{"s":"B","x":946,"y":0.193},{"s":"B","x":965,"y":0.185},{"s":"B","x":981,"y":0.182},{"s":"B","x":995,"y":0.186},{"s":"B","x":1000,"y":0.205},{"s":"B","x":1004,"y":0.226},{"s":"B","x":1008,"y":0.205},{"s":"B","x":1016,"y":0.190},{"s":"B","x":1025,"y":0.186},{"s":"B","x":1033,"y":0.189},{"s":"B","x":1050,"y":0.182},{"s":"B","x":1080,"y":0.178},{"s":"B","x":1108,"y":0.178},{"s":"B","x":1131,"y":0.182},{"s":"B","x":1140,"y":0.190},{"s":"B","x":1149,"y":0.202},{"s":"B","x":1157,"y":0.190},{"s":"B","x":1166,"y":0.184},{"s":"B","x":1185,"y":0.186},{"s":"B","x":1206,"y":0.189},{"s":"B","x":1220,"y":0.195},{"s":"B","x":1235,"y":0.197},{"s":"B","x":1260,"y":0.200},{"s":"B","x":1281,"y":0.203},{"s":"B","x":1310,"y":0.205},{"s":"B","x":1339,"y":0.206},{"s":"B","x":1355,"y":0.200},{"s":"B","x":1368,"y":0.193},{"s":"B","x":1391,"y":0.184},{"s":"B","x":1410,"y":0.186},{"s":"B","x":1420,"y":0.190},{"s":"B","x":1432,"y":0.205},{"s":"B","x":1443,"y":0.216},{"s":"B","x":1453,"y":0.212},{"s":"B","x":1466,"y":0.198},{"s":"B","x":1478,"y":0.182},{"s":"B","x":1489,"y":0.173},{"s":"B","x":1500,"y":0.180},{"s":"B","x":1512,"y":0.196},{"s":"B","x":1520,"y":0.190},{"s":"B","x":1535,"y":0.182},{"s":"B","x":1548,"y":0.188},{"s":"B","x":1559,"y":0.186},{"s":"B","x":1570,"y":0.180},{"s":"B","x":1582,"y":0.182},{"s":"B","x":1600,"y":0.185},{"s":"B","x":1616,"y":0.189},{"s":"B","x":1630,"y":0.190},{"s":"B","x":1639,"y":0.202},{"s":"B","x":1651,"y":0.214},{"s":"B","x":1663,"y":0.218},{"s":"B","x":1675,"y":0.212},{"s":"B","x":1686,"y":0.203},{"s":"B","x":1700,"y":0.188},{"s":"B","x":1715,"y":0.176},{"s":"B","x":1732,"y":0.170},{"s":"B","x":1760,"y":0.165},{"s":"B","x":1800,"y":0.164},
{"s":"C","x":400,"y":0.082},{"s":"C","x":430,"y":0.083},{"s":"C","x":460,"y":0.086},{"s":"C","x":484,"y":0.089},{"s":"C","x":505,"y":0.086},{"s":"C","x":530,"y":0.084},{"s":"C","x":560,"y":0.084},{"s":"C","x":588,"y":0.084},{"s":"C","x":610,"y":0.083},{"s":"C","x":635,"y":0.085},{"s":"C","x":658,"y":0.087},{"s":"C","x":680,"y":0.085},{"s":"C","x":705,"y":0.083},{"s":"C","x":727,"y":0.082},{"s":"C","x":750,"y":0.084},{"s":"C","x":775,"y":0.085},{"s":"C","x":800,"y":0.085},{"s":"C","x":825,"y":0.087},{"s":"C","x":854,"y":0.089},{"s":"C","x":880,"y":0.085},{"s":"C","x":910,"y":0.083},{"s":"C","x":935,"y":0.082},{"s":"C","x":960,"y":0.082},{"s":"C","x":981,"y":0.082},{"s":"C","x":995,"y":0.084},{"s":"C","x":1004,"y":0.088},{"s":"C","x":1012,"y":0.085},{"s":"C","x":1030,"y":0.086},{"s":"C","x":1050,"y":0.085},{"s":"C","x":1075,"y":0.083},{"s":"C","x":1096,"y":0.082},{"s":"C","x":1120,"y":0.084},{"s":"C","x":1145,"y":0.085},{"s":"C","x":1166,"y":0.085},{"s":"C","x":1200,"y":0.088},{"s":"C","x":1235,"y":0.092},{"s":"C","x":1270,"y":0.095},{"s":"C","x":1304,"y":0.097},{"s":"C","x":1335,"y":0.099},{"s":"C","x":1362,"y":0.101},{"s":"C","x":1385,"y":0.100},{"s":"C","x":1408,"y":0.100},{"s":"C","x":1430,"y":0.102},{"s":"C","x":1455,"y":0.103},{"s":"C","x":1470,"y":0.101},{"s":"C","x":1489,"y":0.101},{"s":"C","x":1510,"y":0.104},{"s":"C","x":1535,"y":0.110},{"s":"C","x":1560,"y":0.119},{"s":"C","x":1582,"y":0.130},{"s":"C","x":1600,"y":0.143},{"s":"C","x":1616,"y":0.158},{"s":"C","x":1630,"y":0.170},{"s":"C","x":1645,"y":0.176},{"s":"C","x":1660,"y":0.172},{"s":"C","x":1674,"y":0.164},{"s":"C","x":1690,"y":0.148},{"s":"C","x":1709,"y":0.130},{"s":"C","x":1725,"y":0.115},{"s":"C","x":1743,"y":0.104},{"s":"C","x":1770,"y":0.090},{"s":"C","x":1800,"y":0.082}
],
"Dlab": [{"t":"A","x":1740,"y":0.285},{"t":"B","x":1740,"y":0.203},{"t":"C","x":1740,"y":0.133}]
},
"spacing": 353,
"bounds": "flush",
"vconcat": [
{
"spacing": 162,
"bounds": "flush",
"resolve": {"scale": {"color": "independent"}, "legend": {"color": "independent"}},
"hconcat": [
{
"width": 495, "height": 272,
"title": {"text": "A)", "dx": -11, "offset": -14},
"encoding": {
  "x": {"field": "x", "type": "quantitative", "scale": {"domain": [1500, 2500], "reverse": true, "nice": false, "zero": false},
        "axis": {"orient": "top", "values": [2500, 2250, 2000, 1750, 1500], "format": ".2f", "labelFontSize": 8, "labelColor": "#999", "ticks": false, "domainColor": "#d0d0d0", "domainWidth": 1.5, "labelPadding": 5, "title": "Wavenumber (cm⁻¹)", "titleFontSize": 24, "titleColor": "#404040", "titlePadding": 12}},
  "y": {"field": "y", "type": "quantitative", "scale": {"domain": [390, 392], "reverse": true, "nice": false, "zero": false},
        "axis": {"orient": "right", "values": [390, 390.2, 390.4, 390.6, 390.8, 391, 391.2, 391.4, 391.6, 391.8, 392], "format": ".2f", "labelFontSize": 8, "labelColor": "#999", "ticks": false, "domainColor": "#d0d0d0", "domainWidth": 1.5, "labelPadding": 7, "title": null}}
},
"layer": [
{"data": {"name": "A"},
 "mark": {"type": "line", "strokeWidth": 1.5},
 "encoding": {
  "color": {"field": "s", "type": "nominal", "scale": {"domain": ["background", "1250", "2500", "5000"], "range": ["#6fa6da", "#aab4c6", "#4a6fc2", "#f0b930"]},
        "legend": {"orient": "none", "direction": "horizontal", "legendX": 127, "legendY": 271, "title": null, "symbolType": "stroke", "symbolStrokeWidth": 2, "symbolSize": 600, "labelFontSize": 9, "labelColor": "#999", "labelOffset": 3, "columnPadding": 14}}
 }},
{"data": {"values": [{"x": 1657, "y": 390.03, "y2": 392.02}]},
 "mark": {"type": "rule", "color": "#3dae3d", "strokeWidth": 6.5, "strokeDash": [46, 24]},
 "encoding": {"y2": {"field": "y2"}}}
]
},
{
"width": 419, "height": 230,
"title": {"text": "B)", "dx": -45, "offset": 2},
"encoding": {
  "x": {"field": "x", "type": "quantitative", "scale": {"domain": [500, 4000], "reverse": true, "nice": false, "zero": false},
        "axis": {"values": [4000, 3500, 3000, 2500, 2000, 1500, 1000, 500], "format": "d", "labelFontSize": 11.5, "labelColor": "#555", "tickSize": 3, "tickColor": "#999", "domainColor": "#999", "labelPadding": 2, "title": "Wavenumber (cm⁻¹)", "titleFontSize": 23, "titleColor": "#222", "titlePadding": 9, "titleX": 228}},
  "y": {"field": "y", "type": "quantitative", "scale": {"domain": [-0.5, 4], "nice": false, "zero": false},
        "axis": {"values": [-0.5, 0, 0.5, 1, 1.5, 2, 2.5, 3, 3.5, 4], "format": "~g", "labelFontSize": 11.5, "labelColor": "#555", "tickSize": 3, "tickColor": "#999", "domainColor": "#999", "labelPadding": 2, "title": "Absorbance (a.u)", "titleFontSize": 25, "titleColor": "#222", "titlePadding": 12}}
},
"layer": [
{"data": {"name": "B"},
 "mark": {"type": "line", "strokeWidth": 1.5},
 "encoding": {
  "color": {"field": "s", "type": "nominal", "scale": {"domain": ["A", "B", "C"], "range": ["#5cbf5c", "#5a5ad0", "#e86060"]}, "legend": null}
 }},
{"data": {"name": "Blab"},
 "mark": {"type": "text", "fontWeight": "bold", "fontSize": 14, "color": "#444", "font": "Liberation Sans"},
 "encoding": {"text": {"field": "t"}}},
{"data": {"values": [{"x": 1745, "y": 4.15, "y2": -1.05}]},
 "mark": {"type": "rule", "color": "#3dae3d", "strokeWidth": 6.5, "strokeDash": [46, 24]},
 "encoding": {"y2": {"field": "y2"}}}
]
}
]
},
{
"spacing": 137,
"bounds": "flush",
"resolve": {"scale": {"color": "independent"}, "legend": {"color": "independent"}},
"hconcat": [
{
"width": 556, "height": 363,
"title": {"text": "C)", "dx": -14, "offset": -18},
"encoding": {
  "x": {"field": "x", "type": "quantitative", "scale": {"domain": [400, 3200], "reverse": true, "nice": false, "zero": false},
        "axis": {"offset": -45, "values": [3200, 2800, 2400, 2000, 1600, 1200, 800, 400], "format": "d", "labelFontSize": 8.5, "labelColor": "#999", "ticks": false, "domainColor": "#d9d9d9", "domainWidth": 1.5, "labelPadding": 9, "title": "Raman Shift (cm⁻¹)", "titleFontSize": 24, "titleColor": "#333", "titlePadding": 22}},
  "y": {"field": "y", "type": "quantitative", "scale": {"domain": [-1000, 7000], "nice": false, "zero": false},
        "axis": {"orient": "right", "values": [-1000, 0, 1000, 2000, 3000, 4000, 5000, 6000, 7000], "format": "d", "labelFontSize": 8.5, "labelColor": "#999", "ticks": false, "domainColor": "#d9d9d9", "domainWidth": 1.5, "labelPadding": 7, "title": null}}
},
"layer": [
{"data": {"name": "C"},
 "mark": {"type": "line", "strokeWidth": 5.5, "strokeJoin": "round"},
 "encoding": {
  "color": {"field": "s", "type": "nominal", "scale": {"domain": ["2500", "5000", "10000"], "range": ["#ed7d31", "#5b9bd5", "#a5a5a5"]},
        "legend": {"orient": "none", "direction": "horizontal", "legendX": 290, "legendY": 395, "title": null, "symbolType": "stroke", "symbolStrokeWidth": 2.5, "symbolSize": 324, "labelFontSize": 8, "labelColor": "#999", "labelOffset": 3, "columnPadding": 14}}
 }},
{"data": {"values": [{"x": 1352, "y": 7050, "y2": -280}]},
 "mark": {"type": "rule", "color": "#3dae3d", "strokeWidth": 6.5, "strokeDash": [46, 24]},
 "encoding": {"y2": {"field": "y2"}}}
]
},
{
"width": 404, "height": 347,
"view": {"stroke": "#999", "strokeWidth": 1.5},
"title": {"text": "D)", "dx": -49, "offset": -19},
"encoding": {
  "x": {"field": "x", "type": "quantitative", "scale": {"domain": [400, 1800], "nice": false, "zero": false},
        "axis": {"values": [400, 600, 800, 1000, 1200, 1400, 1600, 1800], "format": "d", "labelFontSize": 10, "labelColor": "#333", "tickSize": -4, "tickColor": "#999", "domain": false, "labelPadding": 7, "title": "Raman Shift (cm⁻¹)", "titleFontSize": 24, "titleColor": "#333", "titlePadding": 28}},
  "y": {"field": "y", "type": "quantitative", "scale": {"domain": [0.05, 0.35], "nice": false, "zero": false},
        "axis": {"values": [0.05, 0.1, 0.15, 0.2, 0.25, 0.3, 0.35], "format": "~g", "labelFontSize": 10, "labelColor": "#333", "tickSize": -4, "tickColor": "#999", "domain": false, "labelPadding": 7, "title": "Intensity (a.u.)", "titleFontSize": 23, "titleColor": "#333", "titlePadding": 16}}
},
"layer": [
{"data": {"name": "D"},
 "mark": {"type": "line", "strokeWidth": 2},
 "encoding": {
  "color": {"field": "s", "type": "nominal", "scale": {"domain": ["A", "B", "C"], "range": ["#e6bf66", "#da7b62", "#69a7d8"]}, "legend": null}
 }},
{"data": {"name": "Dlab"},
 "mark": {"type": "text", "fontWeight": "bold", "fontSize": 19, "color": "#555", "font": "Open Sans"},
 "encoding": {"text": {"field": "t"}}},
{"data": {"values": [{"x": 1400, "y": 0.35, "y2": 0.05}]},
 "mark": {"type": "rule", "color": "#3dae3d", "strokeWidth": 6.5, "strokeDash": [46, 24]},
 "encoding": {"y2": {"field": "y2"}}}
]
}
]
}
]
}
